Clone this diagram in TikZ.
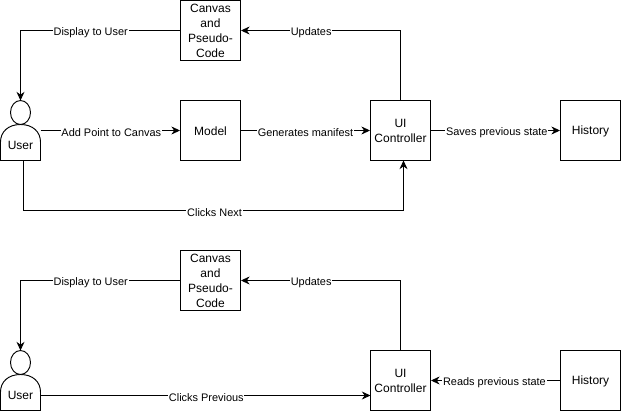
\documentclass[tikz,border=0pt]{standalone}
\usepackage{fontspec}
\setmainfont{Liberation Sans}
\usetikzlibrary{arrows.meta}
\tikzset{
	boxnode/.style={draw, fill=white, minimum width=45pt, minimum height=45pt, inner sep=0pt, align=center, font=\fontsize{9}{11.2}\selectfont, execute at begin node={\rule{0pt}{8.2pt}}},
	flowlabel/.style={fill=white, inner sep=.6pt, yshift=-1.8pt, font=\fontsize{8.2}{10}\selectfont},
	flowline/.style={-{Stealth[length=6.5pt, width=6pt]}, line width=.7pt},
}
\begin{document}
\begin{tikzpicture}[x=.75pt, y=-.75pt, line width=.7pt]
	\useasboundingbox (0, 0) rectangle (621, 417);
	% first sequence
	\node[boxnode] (canvasA) at (210.5, 30.5) {Canvas\\and\\Pseudo-\\Code};
	\node[boxnode] (modelA) at (210.5, 130.5) {Model};
	\node[boxnode] (ctrlA) at (400.5, 130.5) {UI\\Controller};
	\node[boxnode] (histA) at (590.5, 130.5) {History};
	% second sequence
	\node[boxnode] (canvasB) at (210.5, 280.5) {Canvas\\and\\Pseudo-\\Code};
	\node[boxnode] (ctrlB) at (400.5, 380.5) {UI\\Controller};
	\node[boxnode] (histB) at (590.5, 380.5) {History};
	% the two users
	\foreach \nm/\yy in {A/100, B/350} {
		\draw[fill=white] (.5, \yy+60.5) -- (.5, \yy+42) .. controls (.5, \yy+32) and (8, \yy+24.5) .. (20.5, \yy+24.5)
			.. controls (33, \yy+24.5) and (40.5, \yy+32) .. (40.5, \yy+42) -- (40.5, \yy+60.5) -- cycle;
		\draw[fill=white] (20.5, \yy+12.5) ellipse (10 and 12);
		\node[font=\fontsize{9}{11.2}\selectfont, inner sep=0pt] (user\nm) at (20.5, \yy+45.5) {User};
		\coordinate (head\nm) at (20.5, \yy+.5);
	}
	\coordinate (addA) at (40.5, 130.5);
	\coordinate (nextA) at (23.5, 160.5);
	\coordinate (nextcornerA) at (23.5, 210.5);
	\coordinate (nextinA) at (403.5, 160.5);
	\coordinate (nextcornerB) at (403.5, 210.5);
	\coordinate (prevB) at (40.5, 395.5);
	\coordinate (previnB) at (370.5, 395.5);
	% connectors
	\draw[flowline] (canvasA.west) -| node[flowlabel, pos=.28] (displayA) {Display to User} (headA);
	\draw[flowline] (addA) -- node[flowlabel, xshift=.8pt] (addlabelA) {Add Point to Canvas} (modelA.west);
	\draw[flowline] (modelA.east) -- node[flowlabel] (genA) {Generates manifest} (ctrlA.west);
	\draw[flowline] (ctrlA.east) -- node[flowlabel, xshift=1pt] (savesA) {Saves previous state} (histA.west);
	\draw[flowline] (ctrlA.north) |- node[flowlabel, pos=.78] (updatesA) {Updates} (canvasA.east);
	\draw[flowline] (nextA) -- (nextcornerA) -- node[flowlabel, xshift=.8pt] (clicksA) {Clicks Next} (nextcornerB) -- (nextinA);
	\draw[flowline] (canvasB.west) -| node[flowlabel, pos=.28] (displayB) {Display to User} (headB);
	\draw[flowline] (prevB) -- node[flowlabel, xshift=.6pt] (clicksB) {Clicks Previous} (previnB);
	\draw[flowline] (histB.west) -- node[flowlabel, xshift=-.8pt] (readsB) {Reads previous state} (ctrlB.east);
	\draw[flowline] (ctrlB.north) |- node[flowlabel, pos=.78] (updatesB) {Updates} (canvasB.east);
\end{tikzpicture}
\end{document}
